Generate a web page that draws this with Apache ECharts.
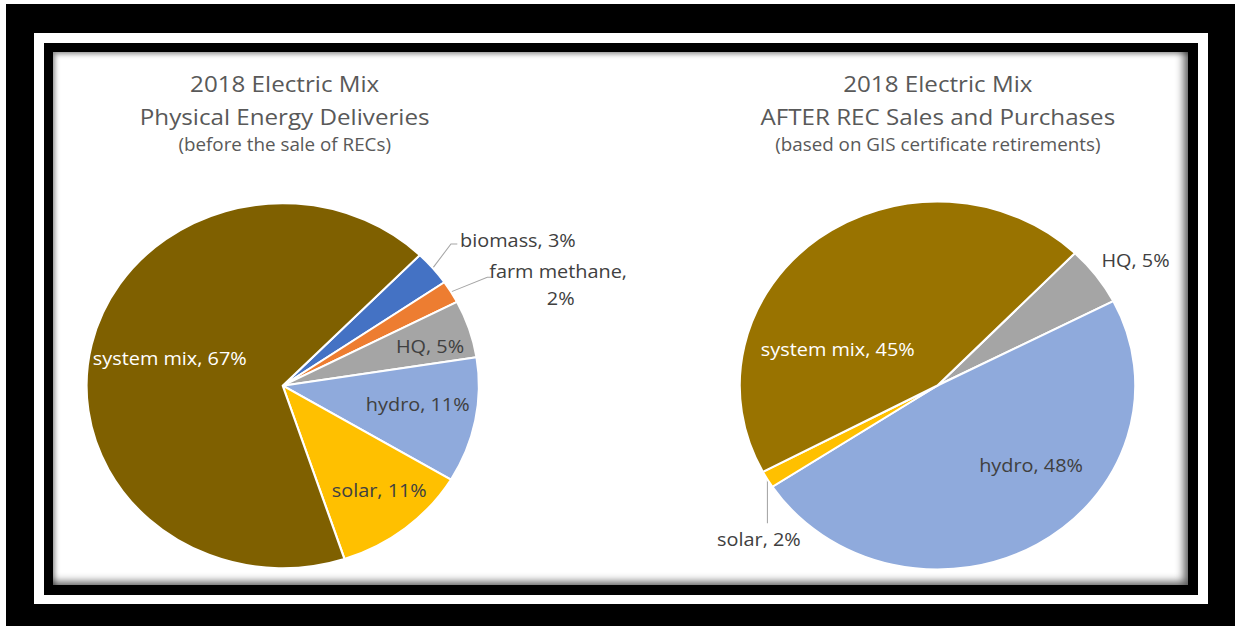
<!DOCTYPE html>
<html>
<head>
<meta charset="utf-8">
<script src="https://cdn.jsdelivr.net/npm/echarts@6/dist/echarts.min.js"></script>
<style>
html,body{margin:0;padding:0;background:#fff;width:1235px;height:626px;overflow:hidden;}
.box{position:absolute;}
#f1{left:6px;top:4px;width:1229px;height:622px;background:#000;}
#f2{left:34px;top:33px;width:1174px;height:571px;background:#fff;}
#f3{left:44px;top:43px;width:1154px;height:552px;background:#000;}
#panel{left:53px;top:52px;width:1135px;height:533px;background:#fff;
  box-shadow: inset -7px -6px 8px -3px rgba(0,0,0,0.65), inset 4px 4px 5px -2px rgba(0,0,0,0.45);}
#chart{position:absolute;left:0;top:0;width:1149px;height:626px;transform:scaleX(1.075);transform-origin:0 0;}
</style>
</head>
<body>
<div class="box" id="f1"></div>
<div class="box" id="f2"></div>
<div class="box" id="f3"></div>
<div class="box" id="panel"></div>
<div id="chart"></div>
<script>
// ---- data ----
const leftTitle = ['2018 Electric Mix', 'Physical Energy Deliveries', '(before the sale of RECs)'];
const rightTitle = ['2018 Electric Mix', 'AFTER REC Sales and Purchases', '(based on GIS certificate retirements)'];
const leftCategories = ['biomass', 'farm methane', 'HQ', 'hydro', 'solar', 'system mix'];
const leftValues = [3.1, 2.0, 5.1, 11.1, 11.3, 67.4];
const rightCategories = ['HQ', 'hydro', 'solar', 'system mix'];
const rightValues = [5.2, 48.3, 1.5, 45.0];

// ---- styles ----
const FONT = '"Open Sans"';
const TXT = '#404040';
const colorOf = {
  'biomass': '#4472C4', 'farm methane': '#ED7D31', 'HQ': '#A5A5A5',
  'hydro': '#8FAADC', 'solar': '#FFC000'
};
const leftSysColor = '#7F6000';
const rightSysColor = '#997300';

const pies = [
  { center: [263, 385.7], radius: 182.5, start: 45.7 },
  { center: [872.1, 385.5], radius: 184, start: 46 }
];
// label placement relative to pie centre (layout only)
const spots = [
  [
    { dx: 165, dy: -145.7, align: 'left', line: [[156.5, -141.7], [162.4, -141.7]] },
    { dx: 258.6, dy: -101, align: 'center', line: [[190.3, -108.4], [194.4, -108.4]], wrap: 150 },
    { dx: 137, dy: -40 },
    { dx: 125.6, dy: 17.6 },
    { dx: 89.8, dy: 104.3 },
    { dx: -105.1, dy: -27.7, white: true }
  ],
  [
    { dx: 184.2, dy: -125.5 },
    { dx: 87, dy: 78.8 },
    { dx: -166.1, dy: 152.8, vline: 137.8 },
    { dx: -92.8, dy: -36.5, white: true }
  ]
];

function buildData(cats, vals, sysColor, sp) {
  const total = vals.reduce((a, b) => a + b, 0);
  return cats.map((c, i) => {
    const s = sp[i];
    const hasLine = !!(s.line || s.vline);
    const item = {
      name: c,
      value: vals[i],
      pct: Math.round(vals[i] / total * 100),
      itemStyle: { color: c === 'system mix' ? sysColor : colorOf[c] },
      label: {
        position: hasLine ? 'outside' : 'inside',
        color: s.white ? '#ffffff' : TXT
      },
      labelLine: { show: hasLine }
    };
    if (s.wrap) { item.label.width = s.wrap; item.label.overflow = 'break'; }
    return item;
  });
}

const titleRich = {
  l1: { fontFamily: FONT, fontSize: 22.5, color: '#595959', lineHeight: 40 },
  l2: { fontFamily: FONT, fontSize: 22.5, color: '#595959', lineHeight: 26 },
  l3: { fontFamily: FONT, fontSize: 17.5, color: '#595959', lineHeight: 29 }
};
function makeTitle(lines, x) {
  return {
    text: '{l1|' + lines[0] + '}\n{l2|' + lines[1] + '}\n{l3|' + lines[2] + '}',
    left: x, top: 63.5, textAlign: 'center', padding: 0,
    textStyle: { fontFamily: FONT, fontWeight: 'normal', color: '#595959', rich: titleRich }
  };
}

function makeSeries(idx, cats, vals, sysColor) {
  const p = pies[idx];
  const sp = spots[idx];
  return {
    type: 'pie',
    center: p.center,
    radius: p.radius,
    startAngle: p.start,
    clockwise: true,
    animation: false,
    avoidLabelOverlap: false,
    silent: true,
    itemStyle: { borderColor: '#ffffff', borderWidth: 2 },
    label: {
      show: true,
      fontFamily: FONT,
      fontSize: 18.5,
      lineHeight: 27,
      formatter: (prm) => prm.name + ', ' + prm.data.pct + '%'
    },
    labelLine: { lineStyle: { color: '#A6A6A6', width: 1 }, length: 20, length2: 6 },
    labelLayout: (prm) => {
      const s = sp[prm.dataIndex];
      const cx = p.center[0], cy = p.center[1];
      const res = { x: cx + s.dx, y: cy + s.dy, align: s.align || 'center', verticalAlign: 'middle' };
      if (s.line && prm.labelLinePoints) {
        const p0 = prm.labelLinePoints[0];
        res.labelLinePoints = [[p0[0], p0[1]], [cx + s.line[0][0], cy + s.line[0][1]], [cx + s.line[1][0], cy + s.line[1][1]]];
      } else if (s.vline && prm.labelLinePoints) {
        const p0 = prm.labelLinePoints[0];
        res.labelLinePoints = [[p0[0], p0[1]], [p0[0], cy + s.vline], [p0[0], cy + s.vline]];
      }
      return res;
    },
    data: buildData(cats, vals, sysColor, sp)
  };
}

const chart = echarts.init(document.getElementById('chart'), null, { renderer: 'svg' });
chart.setOption({
  backgroundColor: 'transparent',
  animation: false,
  title: [makeTitle(leftTitle, 264.8), makeTitle(rightTitle, 872.4)],
  series: [
    makeSeries(0, leftCategories, leftValues, leftSysColor),
    makeSeries(1, rightCategories, rightValues, rightSysColor)
  ]
});
</script>
</body>
</html>
